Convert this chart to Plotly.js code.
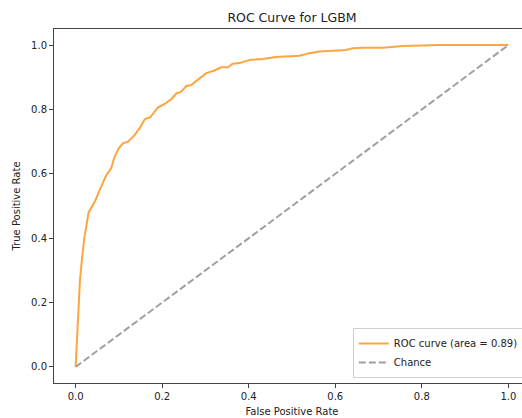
<!DOCTYPE html>
<html>
<head>
<meta charset="utf-8">
<script src="https://cdn.plot.ly/plotly-3.0.1.min.js"></script>
<style>
html, body { margin: 0; padding: 0; overflow: hidden; background: #fff; }
#chart { width: 540px; height: 418px; }
</style>
</head>
<body>
<div id="chart"></div>
<script>
const fpr = [0, 0.005, 0.01, 0.015, 0.02, 0.03, 0.044, 0.059, 0.071, 0.082, 0.09, 0.1, 0.109, 0.121, 0.136, 0.148, 0.16, 0.172, 0.19, 0.206, 0.221, 0.233, 0.244, 0.256, 0.267, 0.282, 0.302, 0.321, 0.336, 0.352, 0.363, 0.379, 0.402, 0.433, 0.463, 0.517, 0.54, 0.564, 0.602, 0.625, 0.64, 0.664, 0.71, 0.756, 0.84, 1.0];
const tpr = [0, 0.15, 0.27, 0.34, 0.40, 0.48, 0.513, 0.56, 0.596, 0.617, 0.653, 0.68, 0.695, 0.70, 0.72, 0.742, 0.77, 0.775, 0.806, 0.817, 0.832, 0.85, 0.855, 0.873, 0.876, 0.892, 0.913, 0.921, 0.931, 0.931, 0.942, 0.944, 0.954, 0.957, 0.963, 0.967, 0.975, 0.98, 0.983, 0.985, 0.99, 0.992, 0.992, 0.997, 1.0, 1.0];
const chanceX = [0, 1];
const chanceY = [0, 1];
const rocLabel = 'ROC curve (area = 0.89)';
const chanceLabel = 'Chance';
const tickVals = [0, 0.2, 0.4, 0.6, 0.8, 1.0];
const tickText = ['0.0', '0.2', '0.4', '0.6', '0.8', '1.0'];

const font = 'DejaVu Sans, sans-serif';
const traces = [
  { x: fpr, y: tpr, mode: 'lines', name: rocLabel,
    line: { color: '#ffa53f', width: 2 } },
  { x: chanceX, y: chanceY, mode: 'lines', name: chanceLabel,
    line: { color: '#a0a0a0', width: 2, dash: '7px,3px' } }
];
const axisCommon = {
  showgrid: false, zeroline: false, showline: true, mirror: true,
  linecolor: '#444', linewidth: 1, ticks: 'outside', ticklen: 4,
  tickcolor: '#444', tickwidth: 1, tickvals: tickVals, ticktext: tickText,
  tickfont: { family: font, size: 10, color: '#222' }
};
const layout = {
  width: 540, height: 418,
  margin: { l: 54, r: 10, t: 29, b: 35 },
  paper_bgcolor: '#fff', plot_bgcolor: '#fff',
  font: { family: font, size: 10, color: '#222' },
  title: { text: 'ROC Curve for LGBM', font: { family: font, size: 12.5, color: '#222' },
           x: (54 + 238) / 540, xanchor: 'center', y: 1 - 18 / 418, yanchor: 'middle' },
  xaxis: Object.assign({}, axisCommon, { range: [-0.05, 1.05],
    title: { text: 'False Positive Rate', font: { family: font, size: 10, color: '#222' }, standoff: 6 } }),
  yaxis: Object.assign({}, axisCommon, { range: [-0.05, 1.05],
    title: { text: 'True Positive Rate', font: { family: font, size: 10, color: '#222' }, standoff: 8 } }),
  showlegend: true,
  legend: { x: 0.987, xanchor: 'right', y: 0.014, yanchor: 'bottom',
    bgcolor: 'rgba(255,255,255,0.8)', bordercolor: '#d0d0d0', borderwidth: 1,
    font: { family: font, size: 10, color: '#222' }, itemwidth: 30, tracegroupgap: 0 }
};
Plotly.newPlot('chart', traces, layout, { displayModeBar: false, responsive: false });
</script>
</body>
</html>
